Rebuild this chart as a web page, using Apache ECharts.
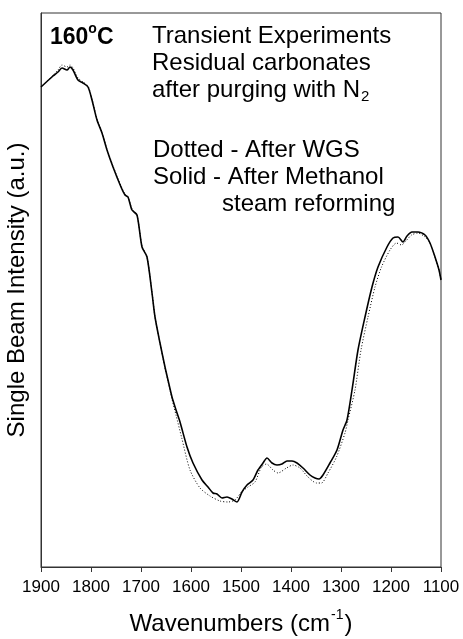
<!DOCTYPE html>
<html>
<head>
<meta charset="utf-8">
<script src="https://cdn.jsdelivr.net/npm/echarts@6/dist/echarts.min.js"></script>
<style>
  html, body { margin: 0; padding: 0; background: #fff; }
  #chart { width: 463px; height: 639px; }
</style>
</head>
<body>
<div id="chart"></div>
<script>
// Wavenumbers (cm^-1) and single beam intensity (a.u.) after methanol steam reforming (solid)
const solidWavenumbers = [1900, 1876, 1866, 1858, 1848, 1842, 1836, 1826, 1816, 1806, 1798, 1788, 1778, 1768, 1756, 1740, 1732, 1726, 1718, 1708, 1698, 1688, 1678, 1672, 1662, 1652, 1646, 1638, 1630, 1622, 1608, 1596, 1578, 1566, 1556, 1548, 1538, 1528, 1518, 1508, 1498, 1488, 1476, 1466, 1456, 1448, 1438, 1428, 1418, 1408, 1398, 1388, 1376, 1362, 1352, 1344, 1336, 1322, 1308, 1296, 1288, 1278, 1266, 1252, 1238, 1226, 1208, 1196, 1186, 1176, 1168, 1158, 1146, 1132, 1122, 1112, 1104, 1100];
const solidIntensity = [480, 491, 495, 499, 497, 500, 497, 487, 484, 480, 467, 447, 434, 417, 400, 380, 372, 370, 357, 352, 320, 310, 274, 250, 224, 200, 187, 170, 157, 145, 120, 104, 87, 80, 74, 73, 69, 70, 68, 65, 75, 82, 87, 97, 104, 109, 104, 102, 103, 106, 106, 104, 99, 92, 89, 88, 92, 104, 117, 137, 147, 177, 217, 250, 280, 300, 320, 329, 330, 325, 331, 335, 335, 332, 324, 310, 297, 287];

// Same measurement after WGS (dotted)
const dottedWavenumbers = [1900, 1876, 1866, 1858, 1848, 1842, 1836, 1826, 1816, 1806, 1798, 1788, 1778, 1768, 1756, 1740, 1732, 1726, 1718, 1708, 1698, 1688, 1678, 1672, 1662, 1652, 1646, 1638, 1630, 1619, 1602, 1582, 1562, 1542, 1526, 1512, 1499, 1486, 1472, 1459, 1449, 1436, 1426, 1409, 1396, 1382, 1366, 1349, 1339, 1326, 1309, 1292, 1286, 1272, 1260, 1246, 1232, 1219, 1202, 1189, 1179, 1172, 1159, 1146, 1132, 1122, 1112, 1104, 1100];
const dottedIntensity = [480, 492, 497, 502, 500, 502, 499, 489, 485, 481, 468, 448, 435, 418, 401, 381, 373, 370, 358, 352, 321, 310, 275, 250, 224, 199, 186, 168, 152, 130, 97, 79, 71, 66, 65, 67, 75, 80, 85, 100, 103, 97, 94, 99, 102, 99, 90, 84, 84, 94, 110, 134, 147, 177, 217, 250, 280, 300, 317, 324, 322, 325, 332, 334, 330, 324, 310, 297, 287];

// Axis ticks
const xTicks = [1900, 1800, 1700, 1600, 1500, 1400, 1300, 1200, 1100];

// Annotation lines
const annotationLines = ['Transient Experiments', 'Residual carbonates'];
const legendLines = ['Dotted - After WGS', 'Solid - After Methanol'];

const pairs = (xs, ys) => xs.map((x, i) => [x, ys[i]]);

const FONT = '"Liberation Sans", Arial, Helvetica, sans-serif';
const chart = echarts.init(document.getElementById('chart'), null, { renderer: 'canvas' });

const textLine = (text, left, y) => ({
  type: 'text', left: left, top: y - 12,
  style: { text: text, font: '24px ' + FONT, fill: '#000' }
});

chart.setOption({
  animation: false,
  backgroundColor: '#fff',
  grid: {
    left: 41, right: 22, top: 13, bottom: 72,
    outerBoundsMode: 'none', containLabel: false,
    show: true, borderColor: '#333', borderWidth: 1
  },
  xAxis: {
    type: 'value', inverse: true, min: 1100, max: 1900, interval: 100,
    axisLine: { show: true, lineStyle: { color: '#333', width: 1 } },
    axisTick: { show: true, length: 5, inside: false, lineStyle: { color: '#333' } },
    axisLabel: {
      margin: 12, fontSize: 17, fontFamily: FONT, color: '#000',
      formatter: v => (xTicks.indexOf(v) >= 0 ? String(v) : '')
    },
    splitLine: { show: false },
    name: '{a|Wavenumbers (cm}{s|-1}{a|)}',
    nameLocation: 'middle', nameGap: 41,
    nameTextStyle: {
      rich: {
        a: { fontSize: 24, fontFamily: FONT, color: '#000', lineHeight: 28, verticalAlign: 'bottom' },
        s: { fontSize: 14, fontFamily: FONT, color: '#000', lineHeight: 28, verticalAlign: 'top', padding: [0, 1, 0, 1] }
      }
    }
  },
  yAxis: {
    type: 'value', min: 0, max: 554,
    axisLine: { show: true, lineStyle: { color: '#333', width: 1 } },
    axisTick: { show: false }, axisLabel: { show: false }, splitLine: { show: false },
    name: 'Single Beam Intensity (a.u.)',
    nameLocation: 'middle', nameGap: 12,
    nameTextStyle: { fontSize: 24, fontFamily: FONT, color: '#000' }
  },
  series: [
    {
      name: 'After WGS', type: 'line', data: pairs(dottedWavenumbers, dottedIntensity),
      showSymbol: false, symbol: 'none', smooth: 0.25,
      lineStyle: { color: '#000', width: 1, type: [1, 2] }
    },
    {
      name: 'After Methanol steam reforming', type: 'line', data: pairs(solidWavenumbers, solidIntensity),
      showSymbol: false, symbol: 'none', smooth: 0.25,
      lineStyle: { color: '#000', width: 1.6 }
    }
  ],
  graphic: [
    {
      type: 'text', left: 50, top: 22,
      style: {
        text: '{b|160}{o|o}{b|C}',
        rich: {
          b: { font: 'bold 23px ' + FONT, fill: '#000', lineHeight: 27, verticalAlign: 'bottom' },
          o: { font: 'bold 14px ' + FONT, fill: '#000', lineHeight: 27, verticalAlign: 'top' }
        }
      }
    },
    textLine(annotationLines[0], 152, 36),
    textLine(annotationLines[1], 152, 63),
    {
      type: 'text', left: 152, top: 78,
      style: {
        text: '{a|after purging with N}{s|2}',
        rich: {
          a: { font: '24px ' + FONT, fill: '#000', lineHeight: 26, verticalAlign: 'top' },
          s: { font: '15px ' + FONT, fill: '#000', lineHeight: 26, verticalAlign: 'bottom', padding: [0, 0, 0, 1] }
        }
      }
    },
    textLine(legendLines[0], 153, 150),
    textLine(legendLines[1], 153, 177),
    textLine('steam reforming', 222, 204)
  ]
});
</script>
</body>
</html>
